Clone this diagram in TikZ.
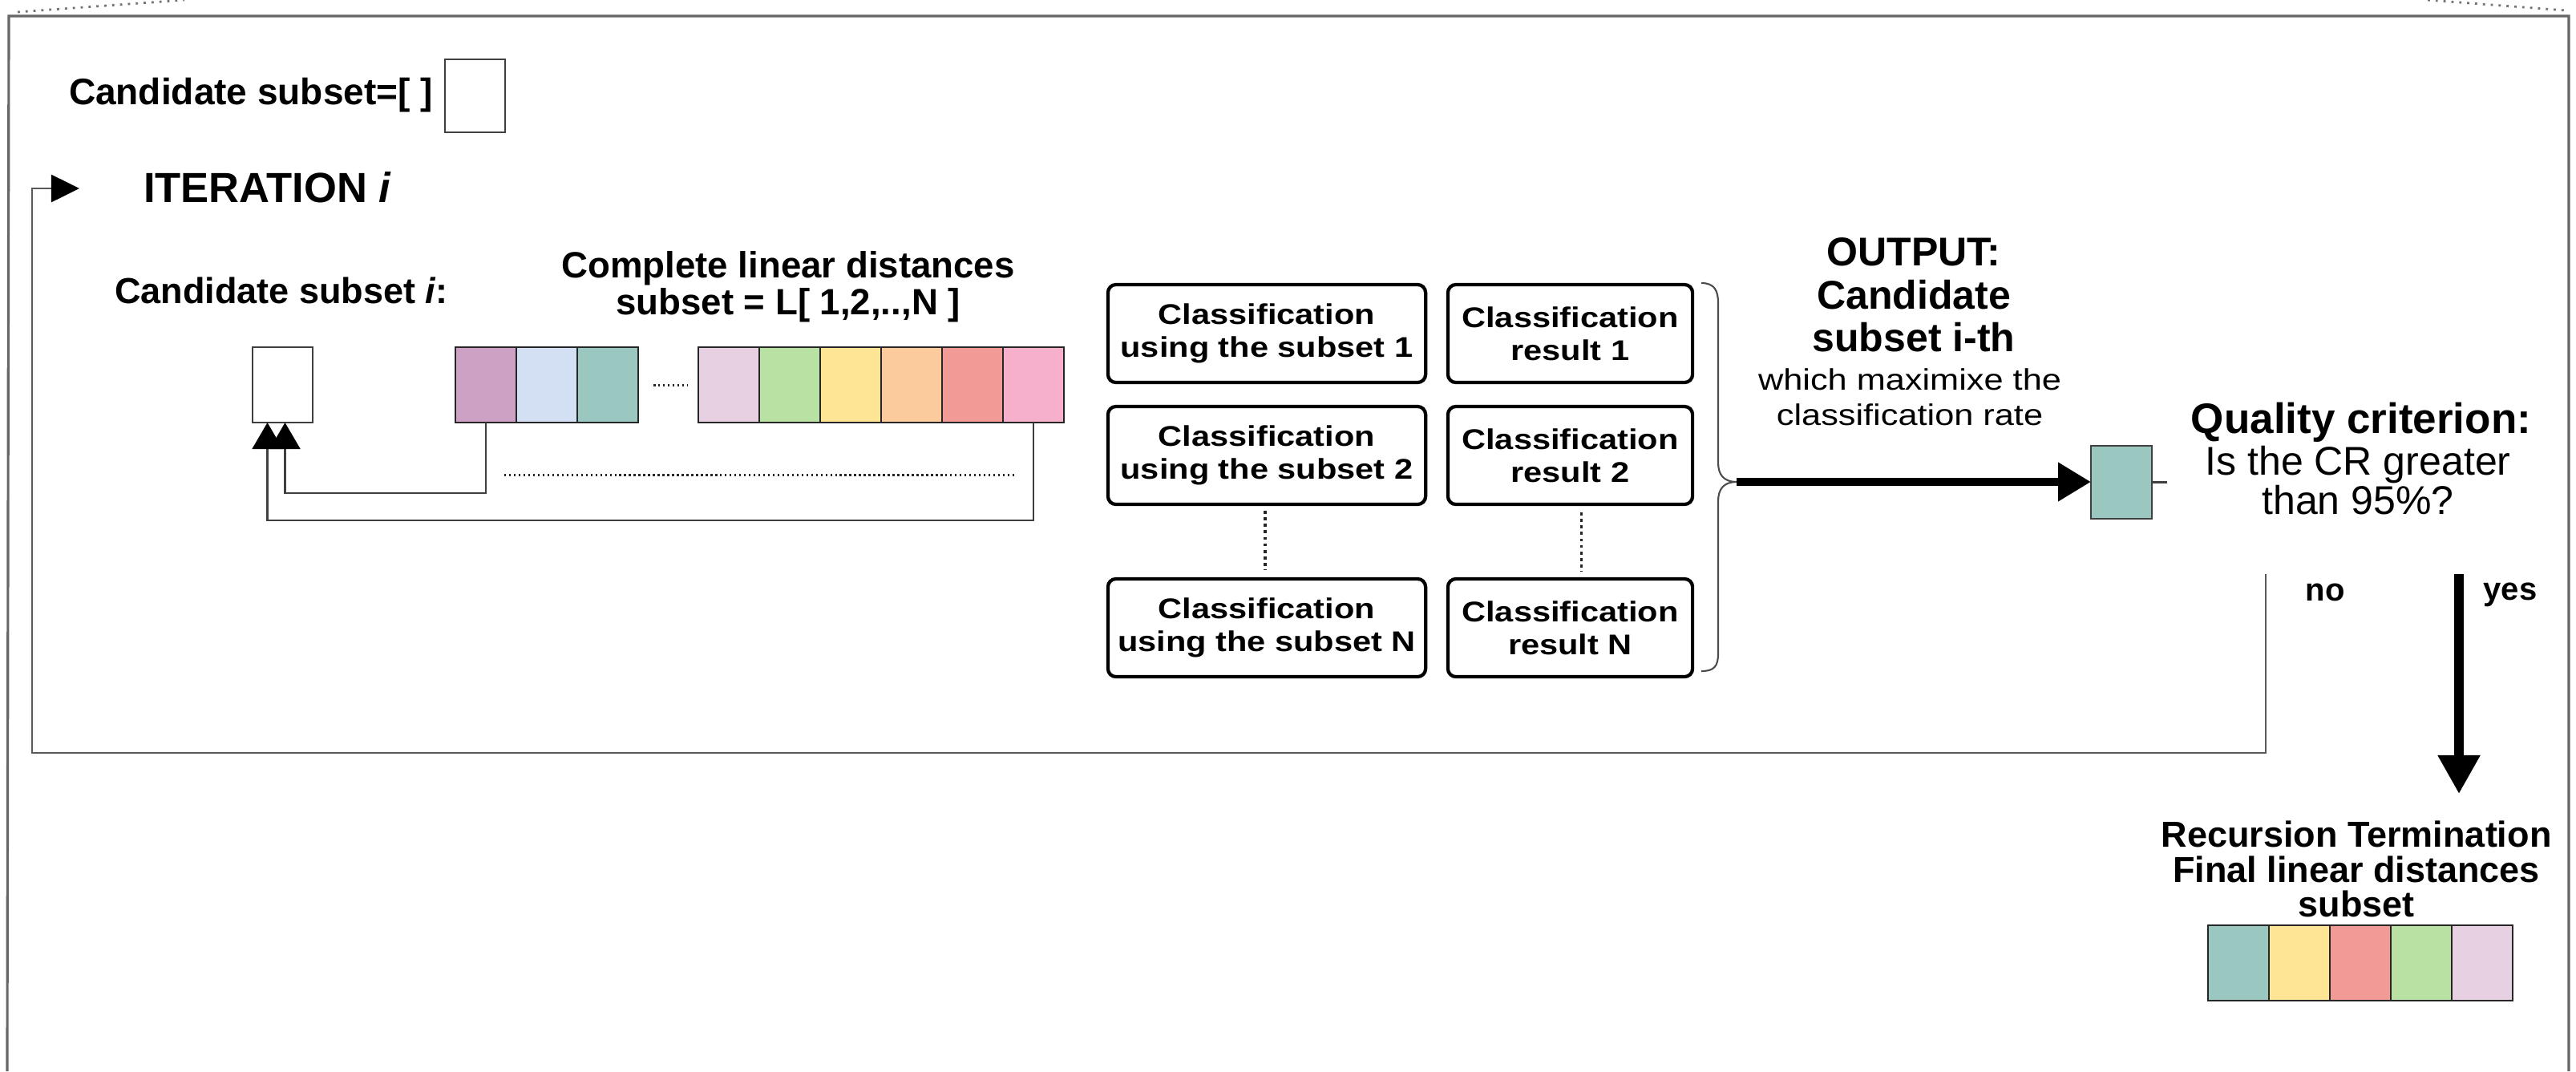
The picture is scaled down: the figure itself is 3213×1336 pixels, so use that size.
\documentclass[tikz,border=0pt]{standalone}
\usepackage{fontspec}
\setmainfont{Liberation Sans}
\newfontfamily\wsans[FakeStretch=1.17]{Liberation Sans}
\usetikzlibrary{arrows.meta,calc}
\newcommand\setfs[1]{\fontsize{#1}{#1}\selectfont}
\definecolor{cMauve}{HTML}{CDA1C4}
\definecolor{cLBlue}{HTML}{D3E0F3}
\definecolor{cTeal}{HTML}{9AC7BF}
\definecolor{cLilac}{HTML}{E6D0E1}
\definecolor{cGreen}{HTML}{B8E1A3}
\definecolor{cYellow}{HTML}{FEE596}
\definecolor{cPeach}{HTML}{FCCB9D}
\definecolor{cSalmon}{HTML}{F19A96}
\definecolor{cPink}{HTML}{F7B0CC}
\begin{document}
\begin{tikzpicture}[x=0.01cm,y=-0.01cm,
  txt/.style={inner sep=0pt, outer sep=0pt},
  cell/.style={draw=black!85, line width=0.6pt, minimum width=0.76cm, minimum height=0.94cm, inner sep=0pt, outer sep=0pt, anchor=north west},
  wbox/.style={draw=black!75, line width=0.6pt, fill=white, inner sep=0pt, outer sep=0pt, anchor=north west},
  cbox/.style={draw=black, line width=1.2pt, rounded corners=0.1cm, inner sep=0pt, minimum height=1.22cm, align=center, font=\wsans\bfseries\fontsize{10.1pt}{11.67pt}\selectfont},
  thinline/.style={draw=black!75, line width=0.6pt},
  loopline/.style={draw=black!65, line width=0.75pt},
  frameline/.style={draw=black!60, line width=0.9pt},
  dotline/.style={draw=black!85, line width=0.85pt, dash pattern=on 0.7pt off 1pt},
  vdot/.style={draw=black!85, line width=1.1pt, dash pattern=on 1.1pt off 1.2pt},
  boldarrow/.style={draw=black, line width=3.1pt}
]
\useasboundingbox (0,0) rectangle (3213,1336);

% outer frame
\draw[frameline] (9,1336) -- (11,20) -- (3204,20) -- (3204,1336);
\draw[black!55, line width=0.8pt, dotted] (22,15) -- (230,0);
\draw[black!55, line width=0.8pt, dotted] (3028,0) -- (3200,13);

% top-left
\node[txt, anchor=base west, font=\bfseries\setfs{13.09pt}] (tcand0) at (86,130) {Candidate subset=[ ]};
\node[wbox, minimum width=0.75cm, minimum height=0.91cm] (box0) at (555,74) {};

\node[txt, anchor=base west, font=\bfseries\setfs{14.94pt}] (titer) at (179,252) {ITERATION \textit{i}};
\node[txt, anchor=base west, font=\bfseries\setfs{12.8pt}] (tcandi) at (143,378) {Candidate subset \textit{i}:};
\node[txt, anchor=north, align=center, font=\bfseries\fontsize{12.97pt}{13.09pt}\selectfont] (tcomp) at (983,313) {Complete linear distances\\subset = L[ 1,2,..,N ]};

% candidate box i
\node[wbox, minimum width=0.75cm, minimum height=0.94cm] (boxi) at (315,433) {};

% strip 1
\node[cell, fill=cMauve] (s1) at (568,433) {};
\node[cell, fill=cLBlue] (s2) at (644,433) {};
\node[cell, fill=cTeal] (s3) at (720,433) {};
% strip 2
\node[cell, fill=cLilac] (s4) at (871,433) {};
\node[cell, fill=cGreen] (s5) at (947,433) {};
\node[cell, fill=cYellow] (s6) at (1023,433) {};
\node[cell, fill=cPeach] (s7) at (1099,433) {};
\node[cell, fill=cSalmon] (s8) at (1175,433) {};
\node[cell, fill=cPink] (s9) at (1251,433) {};

\draw[dotline] ($(s3.east)+(19,0)$) -- ($(s4.west)+(-14,0)$);

% feedback arrows into candidate box
\draw[thinline, -{Triangle[length=0.33cm,width=0.38cm,color=black]}] (s1.south) -- ++(0,88) -| ($(boxi.south)+(3,0)$);
\draw[thinline, -{Triangle[length=0.33cm,width=0.38cm,color=black]}] (s9.south) -- ++(0,122) -| ($(boxi.south)+(-19,0)$);
\draw[dotline] (629,592) -- (1267,592);

% classification boxes
\node[cbox, minimum width=3.96cm] (c1) at (1580,416) {Classification\\using the subset 1};
\node[cbox, minimum width=3.96cm] (c2) at (1580,568) {Classification\\using the subset 2};
\node[cbox, minimum width=3.96cm] (cN) at (1580,783) {Classification\\using the subset N};
\node[cbox, minimum width=3.05cm] (r1) at (1958.5,416) {Classification\\result 1};
\node[cbox, minimum width=3.05cm] (r2) at (1958.5,568) {Classification\\result 2};
\node[cbox, minimum width=3.05cm] (rN) at (1958.5,783) {Classification\\result N};
\draw[vdot] ($(c2.south)+(-2,6)$) -- ($(cN.north)+(-2,-9)$);
\draw[vdot] ($(r2.south)+(14,8)$) -- ($(rN.north)+(14,-7)$);

% brace
\coordinate (brtip) at (2166,601);
\draw[draw=black!70, line width=0.6pt] (2122,353) .. controls (2138,353) and (2143,362) .. (2143,378) -- (2143,577) .. controls (2143,592) and (2150,601) .. (brtip) .. controls (2150,601) and (2143,610) .. (2143,625) -- (2143,815) .. controls (2143,831) and (2138,837) .. (2122,837);

% output
\node[wbox, fill=cTeal, minimum width=0.76cm, minimum height=0.91cm] (teal) at (2608,556) {};
\draw[boldarrow, -{Triangle[length=0.41cm,width=0.46cm]}] (brtip) -- (brtip -| teal.west);
\draw[thinline] (teal.east) -- ++(19,0);

\node[txt, anchor=north, align=center, font=\bfseries\fontsize{14.23pt}{15.22pt}\selectfont] (tout) at (2387,297) {OUTPUT:\\Candidate\\subset i-th};
\node[txt, anchor=north, align=center, font=\wsans\fontsize{10.53pt}{12.52pt}\selectfont] (tsub) at (2382,460) {which maximixe the\\classification rate};

% quality
\node[txt, anchor=base, font=\bfseries\setfs{15.08pt}] (tq) at (2945,540) {Quality criterion:};
\node[txt, anchor=north, align=center, font=\fontsize{14.23pt}{13.94pt}\selectfont] (tis) at (2941,556) {Is the CR greater\\than 95\%?};

\node[txt, anchor=base, font=\bfseries\setfs{11.38pt}] (tno) at (2900,749) {no};
\node[txt, anchor=base, font=\bfseries\setfs{11.38pt}] (tyes) at (3131,748) {yes};

% loop (no)
\coordinate (nostart) at (2826,716);
\coordinate (loopbl) at (40,939);
\coordinate (looptip) at (99,235);
\draw[loopline, -{Triangle[length=0.35cm,width=0.34cm,color=black]}] (nostart) |- (loopbl) |- (looptip);

% yes arrow
\coordinate (ystart) at (3067,716);
\coordinate (yend) at (3067,990);
\draw[boldarrow, line width=3.2pt, -{Triangle[length=0.48cm,width=0.5cm]}] (ystart) -- (yend);

% final
\node[txt, anchor=north, align=center, font=\bfseries\fontsize{12.8pt}{12.38pt}\selectfont] (trec) at (2939,1024) {Recursion Termination\\Final linear distances\\subset};
\node[cell, fill=cTeal] (f1) at (2754,1154) {};
\node[cell, fill=cYellow] (f2) at (2830,1154) {};
\node[cell, fill=cSalmon] (f3) at (2906,1154) {};
\node[cell, fill=cGreen] (f4) at (2982,1154) {};
\node[cell, fill=cLilac] (f5) at (3058,1154) {};
\end{tikzpicture}
\end{document}
